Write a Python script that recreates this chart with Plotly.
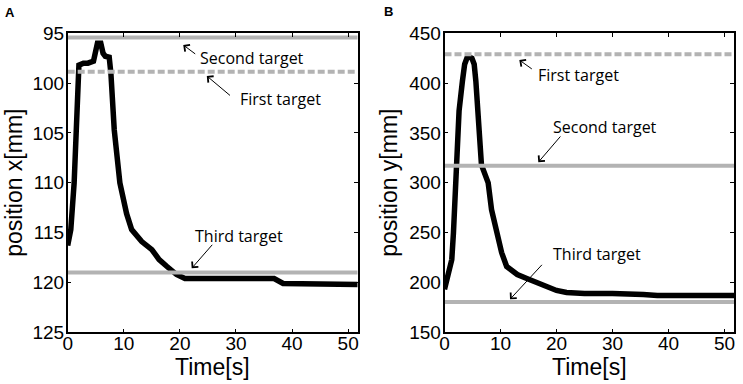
import plotly.graph_objects as go

# ---------------- data ----------------
# Panel A: position x [mm] over time [s]
time_a = [0, 0.55, 1.15, 1.55, 1.75, 2.0, 2.8, 3.6, 4.6, 5.0, 5.3, 5.9, 6.3, 6.7, 7.4, 7.7,
          8.3, 9.3, 10.5, 11.4, 12.4, 13.2, 15.0, 16.3, 17.7, 19.4, 20.9, 23, 27, 31, 35,
          36.8, 38.4, 42, 46, 50, 51.7]
pos_x = [116.3, 114.7, 110, 105, 101, 98.2, 98.0, 98.0, 97.8, 96.5, 96.0, 96.0, 97.0, 97.3,
         97.4, 99, 104.7, 110, 113.1, 114.7, 115.4, 115.9, 116.7, 117.7, 118.4, 119.2, 119.6,
         119.6, 119.6, 119.6, 119.6, 119.6, 120.1, 120.1, 120.1, 120.1, 120.2]

# Panel B: position y [mm] over time [s]
time_b = [0, 0.6, 1.3, 1.6, 2.0, 2.2, 2.6, 3.2, 3.6, 4.0, 4.5, 4.9, 5.3, 5.6, 5.9, 6.2, 6.6,
          7.0, 7.8, 8.4, 9.3, 10.2, 11.1, 11.7, 13.0, 14.7, 16.5, 18.3, 20.0, 21.8, 25, 30,
          33, 35.5, 38, 42, 46, 51.7]
pos_y = [193, 205, 223, 250, 300, 342, 372, 402, 419, 425, 426, 425, 419, 402, 372, 342, 318,
         312, 300, 273, 250, 230, 216, 213, 208, 204, 200, 196, 192, 190, 189, 189, 189, 188,
         187, 187, 187, 187]

# Target positions
targets_a = {"First target": 98.85, "Second target": 95.42, "Third target": 119.0}
targets_b = {"First target": 429.0, "Second target": 317.0, "Third target": 180.5}

x_range = [0, 51.7]
x_ticks = [0, 10, 20, 30, 40, 50]
y_ticks_a = [95, 100, 105, 110, 115, 120, 125]
y_ticks_b = [150, 200, 250, 300, 350, 400, 450]

# ---------------- figure ----------------
fig = go.Figure()

CURVE = dict(color="black", width=5.5)
GRAY = "#b3b3b3"

fig.add_trace(go.Scatter(x=time_a, y=pos_x, mode="lines", line=CURVE,
                         xaxis="x", yaxis="y", showlegend=False))
fig.add_trace(go.Scatter(x=time_b, y=pos_y, mode="lines", line=CURVE,
                         xaxis="x2", yaxis="y2", showlegend=False))

for name, val in targets_a.items():
    dash = "7px,3px" if name == "First target" else "solid"
    fig.add_trace(go.Scatter(x=x_range, y=[val, val], mode="lines",
                             line=dict(color=GRAY, width=4, dash=dash),
                             xaxis="x", yaxis="y", showlegend=False))
for name, val in targets_b.items():
    dash = "7px,3px" if name == "First target" else "solid"
    fig.add_trace(go.Scatter(x=x_range, y=[val, val], mode="lines",
                             line=dict(color=GRAY, width=4, dash=dash),
                             xaxis="x2", yaxis="y2", showlegend=False))

TICKFONT = dict(family="Liberation Sans, Arial, sans-serif", size=19, color="black")
axis_common = dict(
    showline=True, linecolor="black", linewidth=1.5, mirror="ticks",
    ticks="inside", ticklen=4, tickwidth=1, tickcolor="black",
    showgrid=False, zeroline=False, tickfont=TICKFONT, automargin=False,
)

fig.update_layout(
    width=743, height=384, autosize=False,
    margin=dict(l=0, r=0, t=0, b=0, pad=0),
    paper_bgcolor="white", plot_bgcolor="white",
    xaxis=dict(domain=[67.7 / 743, 357.7 / 743], range=x_range, tickvals=x_ticks,
               anchor="y", ticklabelstandoff=-7, **axis_common),
    yaxis=dict(domain=[1 - 332.3 / 384, 1 - 33.3 / 384], range=[125, 95],
               tickvals=y_ticks_a, anchor="x", ticklabelstandoff=-2, **axis_common),
    xaxis2=dict(domain=[444.5 / 743, 734 / 743], range=x_range, tickvals=x_ticks,
                anchor="y2", ticklabelstandoff=-7, **axis_common),
    yaxis2=dict(domain=[1 - 332.3 / 384, 1 - 33.3 / 384], range=[150, 450],
                tickvals=y_ticks_b, anchor="x2", ticklabelstandoff=-2, **axis_common),
)

ANNFONT = dict(family="Open Sans, sans-serif", size=16, color="black")
TITLEFONT = dict(family="Liberation Sans, Arial, sans-serif", size=23, color="black")

annotations = []

def arrow(xr, yr, head, tail):
    annotations.append(dict(xref=xr, yref=yr, axref=xr, ayref=yr,
                            x=head[0], y=head[1], ax=tail[0], ay=tail[1],
                            text="", showarrow=True, arrowhead=4, arrowsize=1.6,
                            arrowwidth=1, arrowcolor="black", standoff=0, startstandoff=0))

def label(xr, yr, pos, text):
    annotations.append(dict(xref=xr, yref=yr, x=pos[0], y=pos[1], text=text,
                            showarrow=False, xanchor="left", yanchor="middle", font=ANNFONT))

# Panel A annotations
arrow("x", "y", (20.6, 96.17), (23.0, 97.18))
label("x", "y", (23.3, 97.45), "Second target")
arrow("x", "y", (24.8, 99.28), (29.2, 101.36))
label("x", "y", (30.3, 101.6), "First target")
arrow("x", "y", (22.1, 118.58), (26.0, 116.07))
label("x", "y", (22.3, 115.35), "Third target")

# Panel B annotations
arrow("x2", "y2", (13.36, 423.2), (15.86, 413.2))
label("x2", "y2", (16.3, 408.0), "First target")
arrow("x2", "y2", (16.75, 320.6), (20.93, 348.0))
label("x2", "y2", (19.0, 356.0), "Second target")
arrow("x2", "y2", (11.7, 183.1), (17.64, 219.2))
label("x2", "y2", (19.0, 228.6), "Third target")

# Axis titles
annotations += [
    dict(xref="paper", yref="paper", x=14 / 743, y=1 - 182.8 / 384, text="position x[mm]",
         textangle=-90, showarrow=False, xanchor="center", yanchor="middle", font=TITLEFONT),
    dict(xref="paper", yref="paper", x=389 / 743, y=1 - 182.8 / 384, text="position y[mm]",
         textangle=-90, showarrow=False, xanchor="center", yanchor="middle", font=TITLEFONT),
    dict(xref="paper", yref="paper", x=212.7 / 743, y=1 - 367 / 384, text="Time[s]",
         showarrow=False, xanchor="center", yanchor="middle", font=TITLEFONT),
    dict(xref="paper", yref="paper", x=589.3 / 743, y=1 - 367 / 384, text="Time[s]",
         showarrow=False, xanchor="center", yanchor="middle", font=TITLEFONT),
    dict(xref="paper", yref="paper", x=10 / 743, y=1 - 12 / 384, text="<b>A</b>",
         showarrow=False, xanchor="center", yanchor="middle",
         font=dict(family="Liberation Sans, Arial, sans-serif", size=13, color="black")),
    dict(xref="paper", yref="paper", x=388 / 743, y=1 - 11 / 384, text="<b>B</b>",
         showarrow=False, xanchor="center", yanchor="middle",
         font=dict(family="Liberation Sans, Arial, sans-serif", size=13, color="black")),
]

fig.update_layout(annotations=annotations)

fig.write_html(
    "out.html",
    config={"displayModeBar": False},
    post_script="document.body.style.margin='0';document.body.style.overflow='hidden';",
)
